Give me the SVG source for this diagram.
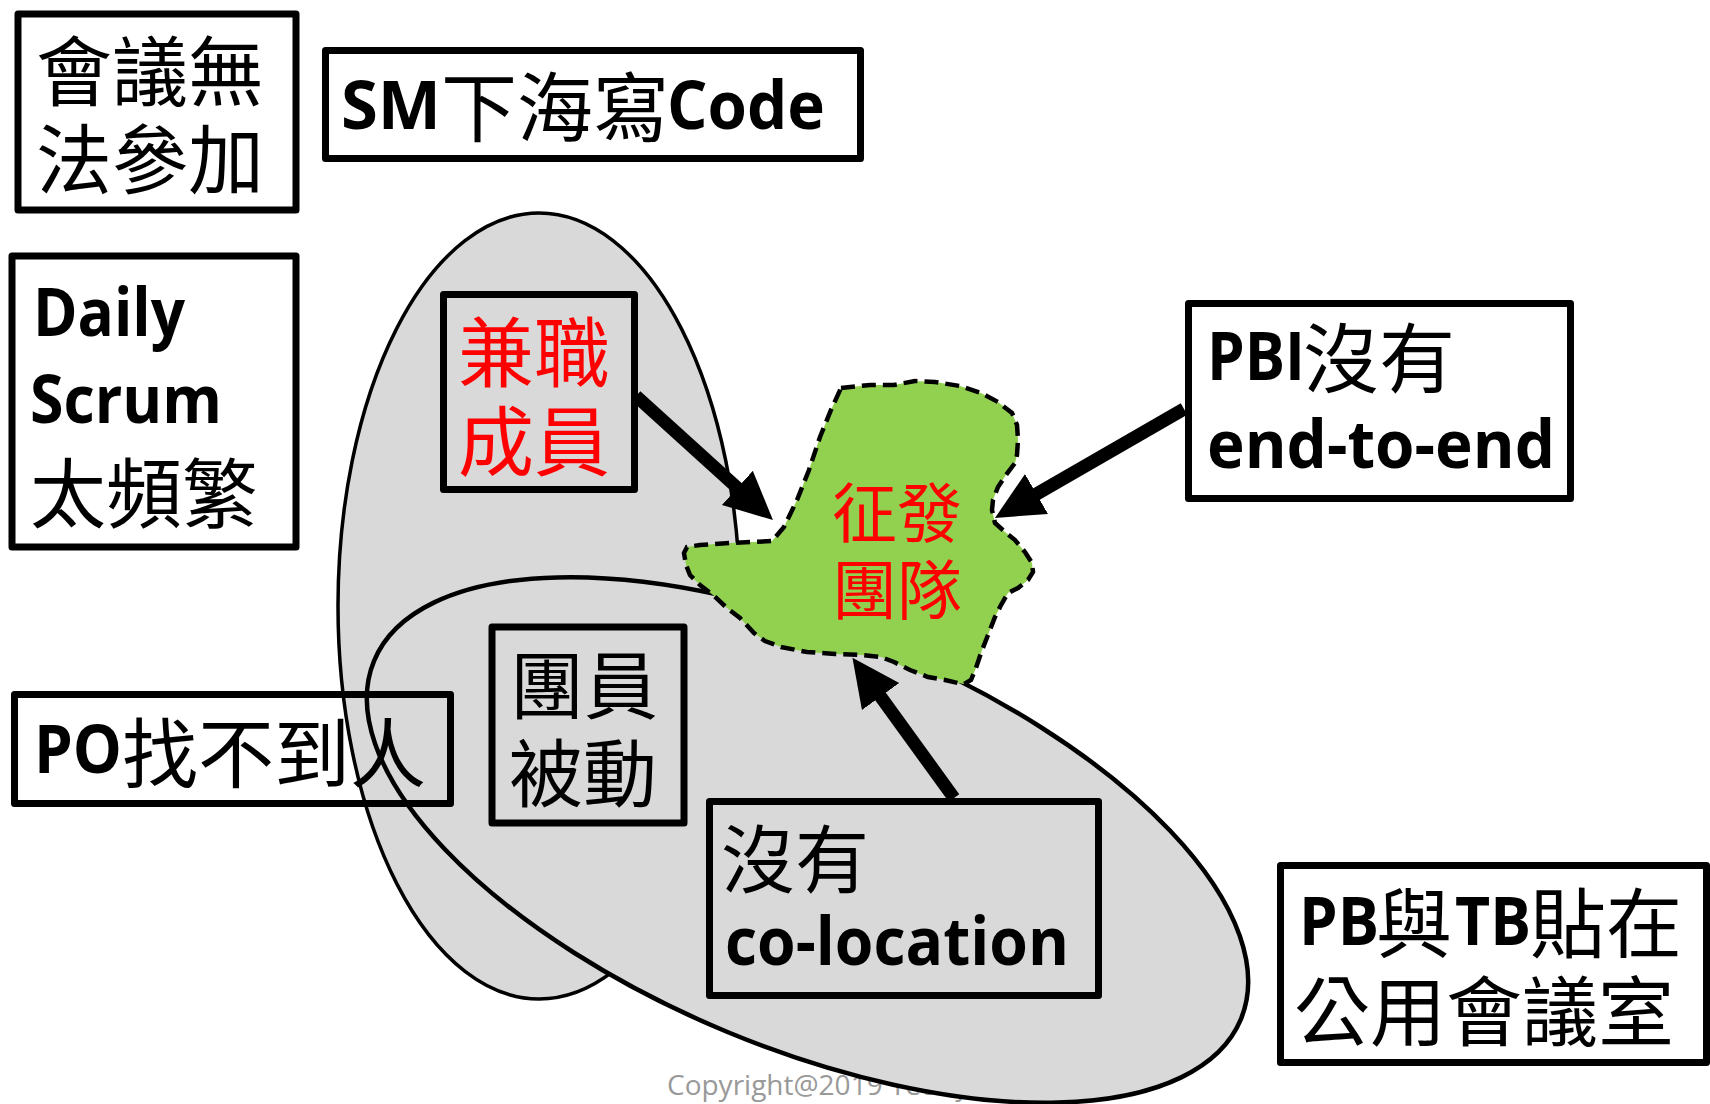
<svg xmlns="http://www.w3.org/2000/svg" width="1710" height="1104" viewBox="0 0 1710 1104">
<defs>
<style>
.box{fill:none;stroke:#000;stroke-width:7;stroke-linejoin:round}
.ell{fill:#d9d9d9;stroke:#000}
.cjk{font-family:"Noto Sans CJK TC","Noto Sans CJK SC",sans-serif;font-size:76px;font-weight:400}
.lat{font-family:"Open Sans","Liberation Sans",sans-serif;font-weight:700;font-size:66px}
.t{fill:#000}
.red{fill:#ff0000}
.conn{stroke:#000;stroke-width:13;fill:none;marker-end:url(#ah)}
.copy{font-family:"Open Sans","Liberation Sans",sans-serif;font-size:28px;fill:#999}
</style>
<marker id="ah" markerUnits="userSpaceOnUse" markerWidth="50" markerHeight="48" refX="8" refY="23" orient="auto">
<path d="M0,0 L48,23 L0,46 Z" fill="#000"/>
</marker>
</defs>
<rect width="1710" height="1104" fill="#fff"/>

<g id="cluster-vertical">
<ellipse class="ell" cx="539" cy="606" rx="201" ry="393" stroke-width="3.5"/>
</g>
<text class="copy" x="667" y="1095">Copyright@2019 Teddy Chen</text>
<g id="cluster-tilted">
<ellipse class="ell" cx="807.5" cy="840" rx="469" ry="208" stroke-width="4.5" transform="rotate(22.46 807.5 840)"/>
</g>

<g id="team">
<path d="M841,388 L870,385 L894,385 L915,381 L935,382 L960,386 L981,393 L998,402 L1012,413 L1017,425 L1018,440 L1017,455 L1015,463 L1006,475 L998,487 L993,500 L992,510 L995,523 L1005,532 L1015,540 L1025,552 L1032,563 L1033,572 L1028,580 L1018,588 L1008,593 L1001,605 L995,617 L988,635 L981,653 L976,668 L971,680 L964,684 L958,683 L945,680 L928,677 L910,670 L894,662 L881,657 L861,655 L835,654 L807,652 L781,647 L765,641 L754,633 L740,618 L727,608 L713,595 L700,585 L690,575 L686,565 L684,553 L687,547 L700,545 L730,543 L772,541 L784,527 L797,500 L809,470 L820,437 L831,410 Z" fill="#92d050" stroke="#000" stroke-width="4.5" stroke-dasharray="14 7"/>
<text class="cjk red" style="font-size:65px" x="832" y="537">征發<tspan x="832" y="614">團隊</tspan></text>
</g>

<g id="n-meeting">
<rect class="box" x="18" y="14" width="278" height="196"/>
<text class="cjk t" x="36" y="100">會議無<tspan x="36" y="188">法參加</tspan></text>
</g>

<g id="n-sm">
<rect class="box" x="325.5" y="50.5" width="535" height="108"/>
<text class="t" y="129"><tspan class="lat" x="341" textLength="100" lengthAdjust="spacingAndGlyphs">SM</tspan><tspan class="cjk" x="441" y="136">下海寫</tspan><tspan class="lat" x="667" y="129" textLength="158" lengthAdjust="spacingAndGlyphs">Code</tspan></text>
</g>

<g id="n-daily">
<rect class="box" x="12" y="256" width="284" height="291"/>
<text class="t"><tspan class="lat" x="33" y="336" textLength="152" lengthAdjust="spacingAndGlyphs">Daily</tspan><tspan class="lat" x="30" y="423" textLength="192" lengthAdjust="spacingAndGlyphs">Scrum</tspan><tspan class="cjk" x="30" y="522">太頻繁</tspan></text>
</g>

<g id="n-po">
<rect class="box" x="14.5" y="694.5" width="436" height="109"/>
<text class="t"><tspan class="lat" x="34" y="773" textLength="88" lengthAdjust="spacingAndGlyphs">PO</tspan><tspan class="cjk" x="122" y="782">找不到人</tspan></text>
</g>

<g id="n-parttime">
<rect class="box" x="443.5" y="294.5" width="191" height="195"/>
<text class="cjk red" x="458" y="381">兼職<tspan x="458" y="470">成員</tspan></text>
</g>

<g id="n-passive">
<rect class="box" x="492" y="627" width="192" height="196"/>
<text class="cjk t" style="font-size:74px" x="510" y="713">團員<tspan x="509" y="801">被動</tspan></text>
</g>

<g id="n-coloc">
<rect class="box" x="709.5" y="801.5" width="389" height="194"/>
<text class="t"><tspan class="cjk" style="font-size:74px" x="721" y="887">沒有</tspan><tspan class="lat" x="725" y="965" textLength="344" lengthAdjust="spacingAndGlyphs">co-location</tspan></text>
</g>

<g id="n-pbi">
<rect class="box" x="1188.5" y="303.5" width="382" height="195"/>
<text class="t"><tspan class="lat" x="1207" y="380" textLength="98" lengthAdjust="spacingAndGlyphs">PBI</tspan><tspan class="cjk" x="1303" y="387">沒有</tspan><tspan class="lat" x="1207" y="468" textLength="348" lengthAdjust="spacingAndGlyphs">end-to-end</tspan></text>
</g>

<g id="n-board">
<rect class="box" x="1280.5" y="865.5" width="426" height="197"/>
<text class="t"><tspan class="lat" x="1299" y="945" textLength="80" lengthAdjust="spacingAndGlyphs">PB</tspan><tspan class="cjk" x="1376" y="952">與</tspan><tspan class="lat" x="1455" y="945" textLength="76" lengthAdjust="spacingAndGlyphs">TB</tspan><tspan class="cjk" x="1530" y="952">貼在</tspan><tspan class="cjk" x="1294" y="1040">公用會議室</tspan></text>
</g>

<g id="connectors">
<line class="conn" x1="636" y1="396" x2="743.3" y2="493.2"/>
<line class="conn" x1="1184" y1="409" x2="1029.6" y2="498"/>
<line class="conn" x1="954" y1="798" x2="875.9" y2="690.1"/>
</g>
</svg>
